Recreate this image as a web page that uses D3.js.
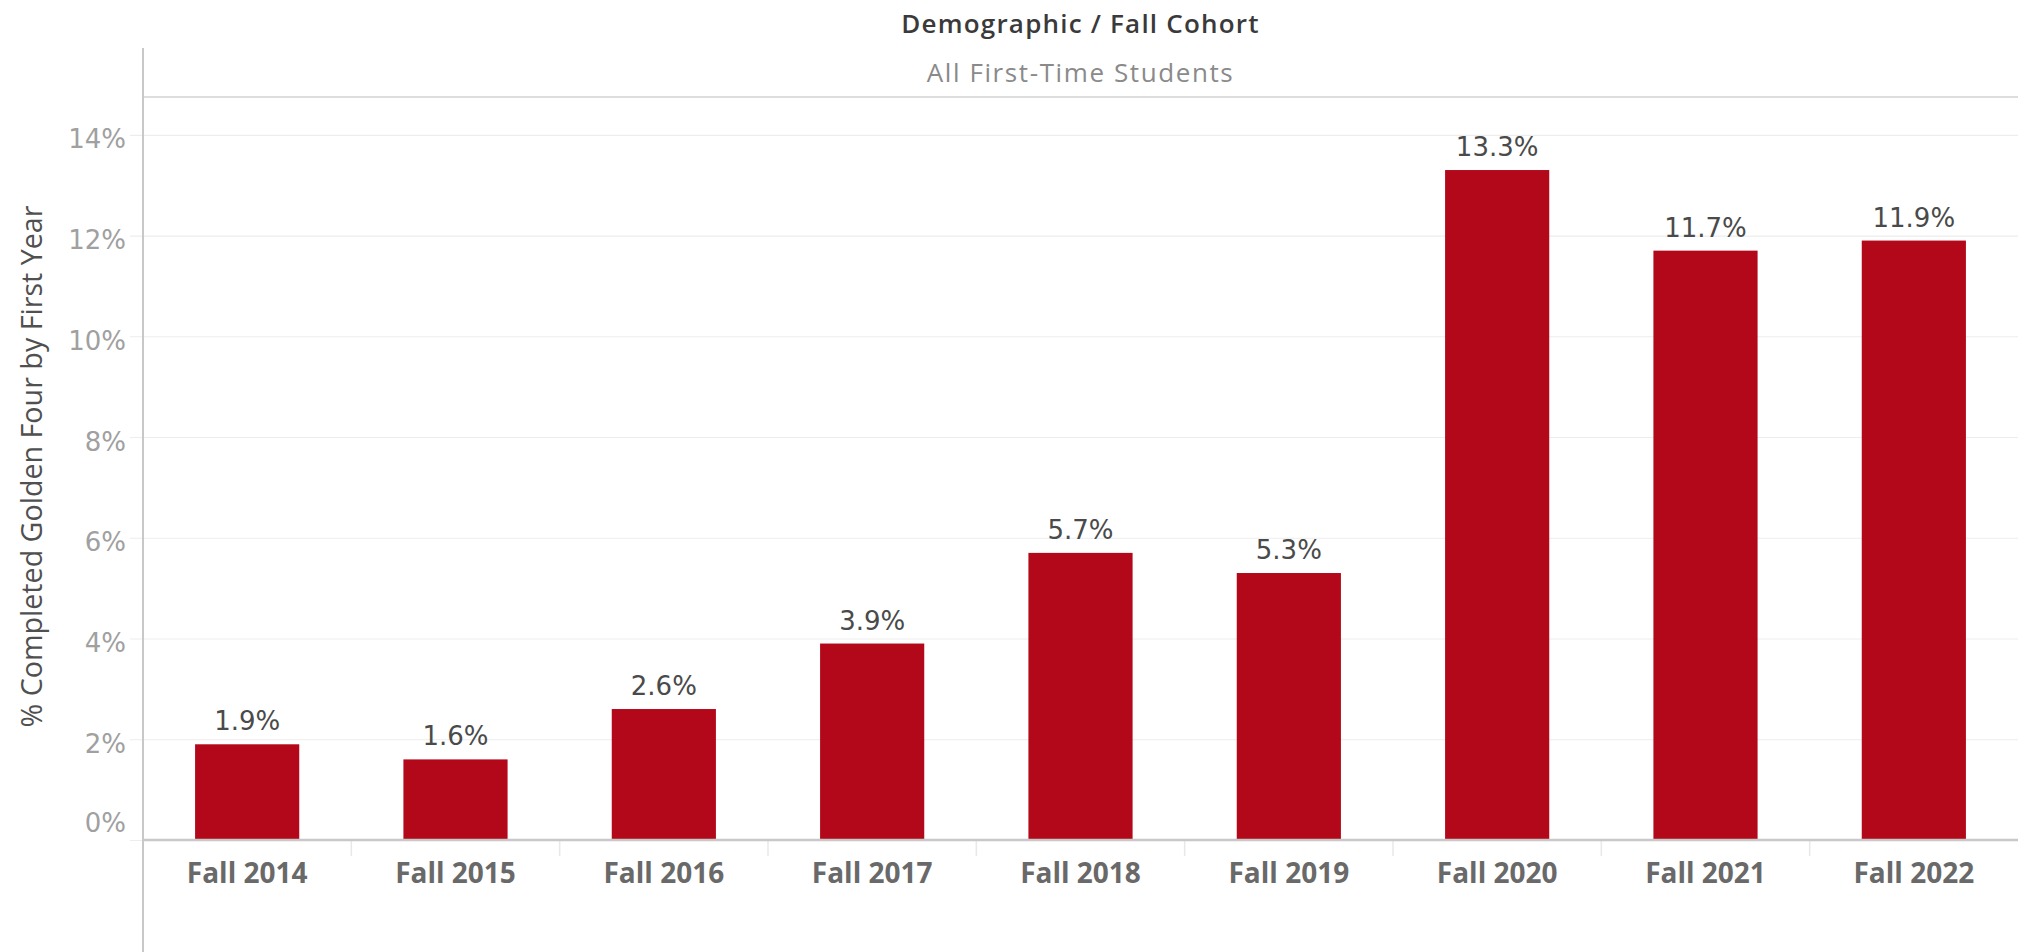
<!DOCTYPE html>
<html>
<head>
<meta charset="utf-8">
<script src="https://cdn.jsdelivr.net/npm/d3@7"></script>
<style>
	body { margin: 0; background: #fff; }
	svg { display: block; }
</style>
</head>
<body>
<div id="chart"></div>
<script>
// values
const cohorts = ["Fall 2014", "Fall 2015", "Fall 2016", "Fall 2017", "Fall 2018", "Fall 2019", "Fall 2020", "Fall 2021", "Fall 2022"];
const pctCompleted = [1.9, 1.6, 2.6, 3.9, 5.7, 5.3, 13.3, 11.7, 11.9];
const yTicks = [0, 2, 4, 6, 8, 10, 12, 14];
const headerTitle = "Demographic / Fall Cohort";
const headerGroup = "All First-Time Students";
const yTitle = "% Completed Golden Four by First Year";

const width = 2018;
const height = 952;

const plotLeft = 143;
const plotRight = 2018;
const plotTop = 97;
const plotBottom = 840;

const rows = cohorts.map((c, i) => ({ cohort: c, value: pctCompleted[i] }));

const svg = d3
	.select("#chart")
	.append("svg")
	.attr("width", width)
	.attr("height", height);

const x = d3
	.scaleBand()
	.domain(cohorts)
	.range([plotLeft, plotRight])
	.paddingInner(0.5)
	.paddingOuter(0.25);

const y = d3.scaleLinear().domain([0, 14.75]).range([plotBottom, plotTop]);

// gridlines (they poke a little past the axis on the left)
const grid = svg
	.append("g")
	.attr("transform", `translate(${plotRight},0)`)
	.call(d3.axisLeft(y).tickValues(yTicks).tickSize(plotRight - 130).tickFormat(""));
grid.select(".domain").remove();
grid.selectAll("line").attr("stroke", "#ededed").attr("stroke-width", 1.2);

// header
svg.append("text")
	.attr("x", (plotLeft + plotRight) / 2)
	.attr("y", 33)
	.attr("text-anchor", "middle")
	.style("font-family", "'Open Sans'")
	.style("font-size", "26px")
	.style("font-weight", 600)
	.style("letter-spacing", "1.2px")
	.attr("fill", "#3a3a3a")
	.text(headerTitle);

svg.append("text")
	.attr("x", (plotLeft + plotRight) / 2)
	.attr("y", 82)
	.attr("text-anchor", "middle")
	.style("font-family", "'Open Sans'")
	.style("font-size", "26px")
	.style("letter-spacing", "1.6px")
	.attr("fill", "#8a8a8a")
	.text(headerGroup);

svg.append("line")
	.attr("x1", plotLeft).attr("x2", plotRight)
	.attr("y1", plotTop).attr("y2", plotTop)
	.attr("stroke", "#d2d2d2")
	.attr("stroke-width", 1.5);

// bars
svg.append("g")
	.selectAll("rect")
	.data(rows)
	.enter()
	.append("rect")
	.attr("x", d => x(d.cohort))
	.attr("y", d => y(d.value))
	.attr("width", x.bandwidth())
	.attr("height", d => y(0) - y(d.value))
	.attr("fill", "#b3081a");

// value labels
svg.append("g")
	.selectAll("text")
	.data(rows)
	.enter()
	.append("text")
	.attr("x", d => x(d.cohort) + x.bandwidth() / 2)
	.attr("y", d => y(d.value) - 14)
	.attr("text-anchor", "middle")
	.style("font-family", "'DejaVu Sans'")
	.style("font-size", "26px")
	.attr("fill", "#4a4a4a")
	.text(d => d.value.toFixed(1) + "%");

// y tick labels
const yAxis = svg
	.append("g")
	.attr("transform", `translate(${plotLeft},0)`)
	.call(d3.axisLeft(y).tickValues(yTicks).tickSize(0).tickPadding(17).tickFormat(d => d + "%"));
yAxis.select(".domain").remove();
yAxis.selectAll("text")
	.style("font-family", "'DejaVu Sans'")
	.style("font-size", "26px")
	.attr("fill", "#a0a0a0")
	.attr("dy", d => (d === 0 ? "-0.31em" : "0.5em")); // Tableau nudges the 0% label up into the pane

svg.append("text")
	.attr("transform", `translate(42,${(206 + 727) / 2}) rotate(-90)`)
	.attr("text-anchor", "middle")
	.attr("textLength", 522)
	.attr("lengthAdjust", "spacingAndGlyphs")
	.style("font-family", "'Open Sans'")
	.style("font-size", "30px")
	.attr("fill", "#505050")
	.text(yTitle);

// x axis
const xAxis = svg
	.append("g")
	.attr("transform", `translate(0,${plotBottom})`)
	.call(d3.axisBottom(x).tickSize(0));
xAxis.select(".domain").remove();
xAxis.selectAll("text")
	.attr("y", 43)
	.attr("dy", 0)
	.style("font-family", "'Open Sans'")
	.style("font-size", "28px")
	.style("font-weight", 700)
	.attr("fill", "#696969");

// short dividers between cohorts under the axis
svg.append("g")
	.selectAll("line")
	.data(cohorts.slice(1))
	.enter()
	.append("line")
	.attr("x1", d => x(d) - x.step() * x.paddingInner() / 2)
	.attr("x2", d => x(d) - x.step() * x.paddingInner() / 2)
	.attr("y1", plotBottom)
	.attr("y2", plotBottom + 16)
	.attr("stroke", "#e8e8e8")
	.attr("stroke-width", 1.5);

svg.append("line")
	.attr("x1", plotLeft).attr("x2", plotRight)
	.attr("y1", plotBottom).attr("y2", plotBottom)
	.attr("stroke", "#c8c8c8")
	.attr("stroke-width", 2.5);

// pane border on the left runs from the header down to the bottom
svg.append("line")
	.attr("x1", plotLeft).attr("x2", plotLeft)
	.attr("y1", 48).attr("y2", height)
	.attr("stroke", "#c8c8c8")
	.attr("stroke-width", 2);
</script>
</body>
</html>
